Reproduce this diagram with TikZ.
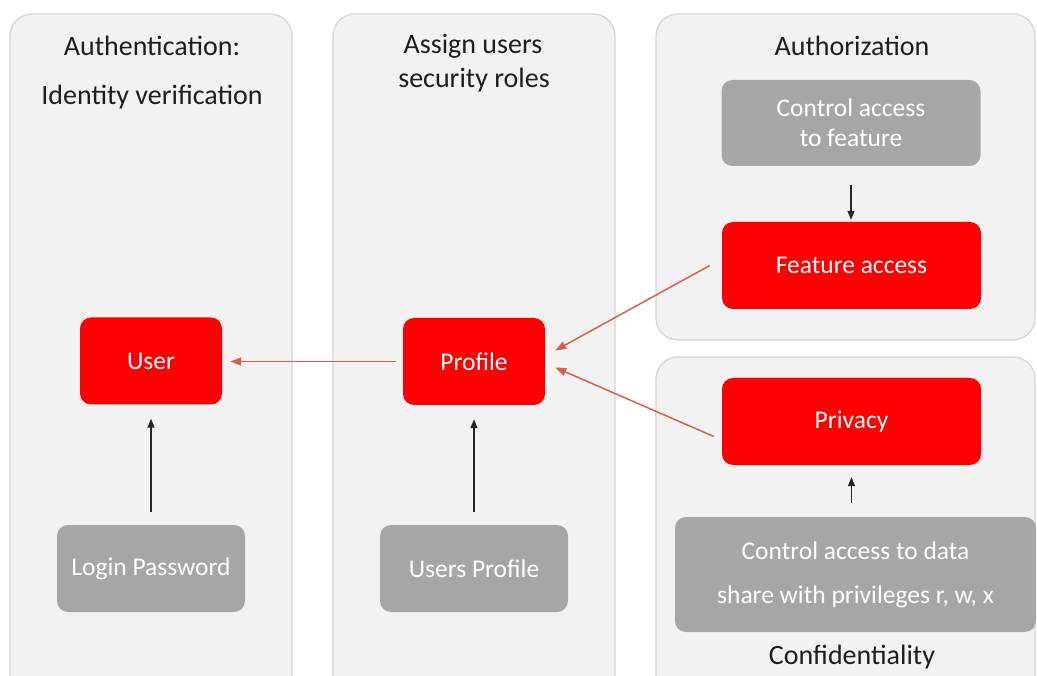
\documentclass[tikz,border=0pt]{standalone}
\usepackage{fontspec}
\setmainfont{Carlito}
\usetikzlibrary{arrows.meta}
\definecolor{panelfill}{HTML}{F2F2F2}
\definecolor{panelline}{HTML}{D6D6D6}
\definecolor{boxgray}{HTML}{A6A6A6}
\definecolor{boxred}{HTML}{FF0000}
\definecolor{linkred}{HTML}{D6604A}
\definecolor{headtext}{HTML}{1E1E1E}
\tikzset{
  panel/.style={draw=panelline, fill=panelfill, line width=1.3pt, rounded corners=22pt},
  redbox/.style={fill=boxred, text=white, rounded corners=11pt, inner sep=0pt, font=\fontsize{25.5}{30}\selectfont, align=center},
  graybox/.style={fill=boxgray, text=white, rounded corners=11pt, inner sep=0pt, font=\fontsize{25.5}{30}\selectfont, align=center},
  headline/.style={text=headtext, inner sep=0pt, font=\fontsize{28}{33}\selectfont},
  blkarrow/.style={draw=black!85, line width=1.3pt, -{Triangle[length=9pt,width=7pt]}},
  redarrow/.style={draw=linkred, line width=1.5pt, -{Triangle[length=11pt,width=8pt]}}
}
\begin{document}
\begin{tikzpicture}[x=1pt,y=-1pt]
\useasboundingbox (0,0) rectangle (1037,676);
\clip (0,0) rectangle (1037,676);
% panels
\draw[panel] (10,14) rectangle (292,700);
\draw[panel] (333,14) rectangle (615,700);
\draw[panel] (656,14) rectangle (1035,340);
\draw[panel] (656,357) rectangle (1035,700);
% headings
\node[headline] (h1) at (152,46) {Authentication:};
\node[headline] (h2) at (152,97) {Identity verification};
\node[headline] (h3) at (473,46) {Assign users};
\node[headline] (h4) at (474,80) {security roles};
\node[headline] (h5) at (852,46) {Authorization};
\node[headline] (h6) at (852,657) {Confidentiality};
% boxes
\node[redbox, minimum width=142pt, minimum height=87pt] (user) at (151,361) {User};
\node[redbox, minimum width=142pt, minimum height=87pt] (prof) at (474,361.5) {Profile};
\node[graybox, minimum width=188pt, minimum height=87pt] (login) at (151,568.5) {Login Password};
\node[graybox, minimum width=188pt, minimum height=87pt] (uprof) at (474,568.5) {Users Profile};
\node[graybox, minimum width=259pt, minimum height=86pt] (ctrl) at (851,123) {Control access\\to feature};
\node[redbox, minimum width=259pt, minimum height=87pt] (feat) at (851.5,265.5) {Feature access};
\node[redbox, minimum width=259pt, minimum height=87pt] (priv) at (851.5,421.5) {Privacy};
\node[graybox, minimum width=361pt, minimum height=115pt, font=\fontsize{25.5}{44}\selectfont] (data) at (855.5,574.5) {Control access to data\\share with privileges r, w, x};
% connectors
\draw[blkarrow, shorten <=13pt, shorten >=14pt] (login.north) -- (user.south);
\draw[blkarrow, shorten <=13pt, shorten >=14pt] (uprof.north) -- (prof.south);
\draw[blkarrow, shorten <=19pt, shorten >=2pt] (ctrl.south) -- (ctrl.south |- feat.north);
\draw[blkarrow, shorten <=14pt, shorten >=12pt] (data.north -| priv.south) -- (priv.south);
\draw[redarrow, shorten <=7pt, shorten >=8pt] (prof.west) -- (user.east |- prof.west);
\draw[redarrow] ([xshift=-12pt]feat.west) -- ([shift={(10pt,11pt)}]prof.east);
\draw[redarrow] ([shift={(-8pt,-15pt)}]priv.west) -- ([shift={(10pt,-6pt)}]prof.east);
\end{tikzpicture}
\end{document}
